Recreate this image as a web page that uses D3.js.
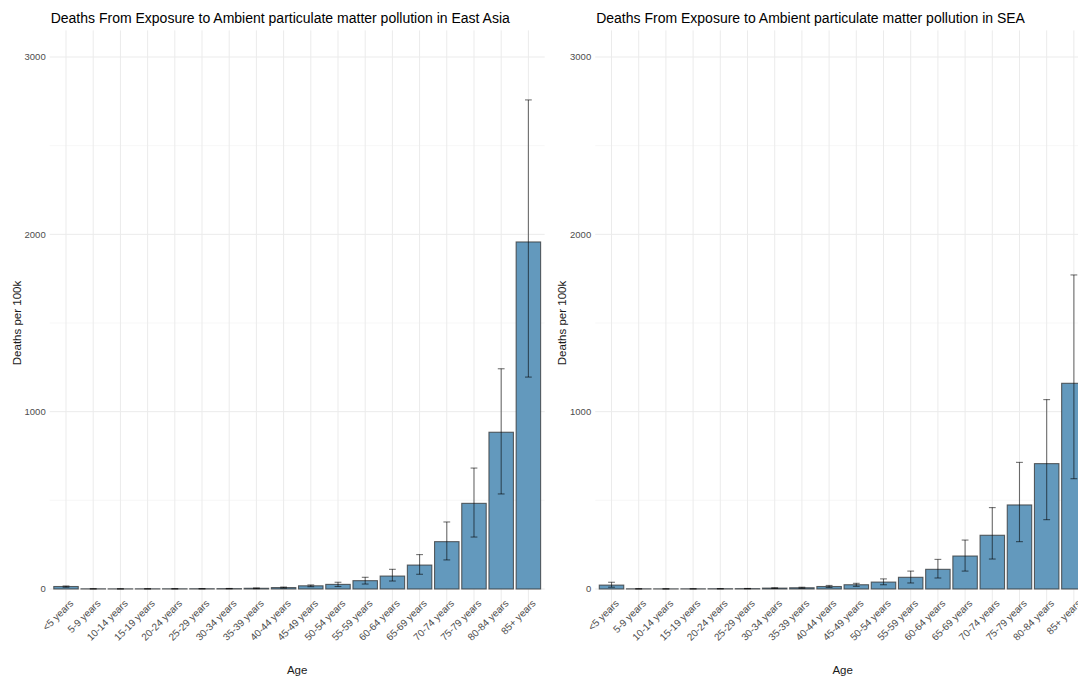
<!DOCTYPE html>
<html>
<head>
<meta charset="utf-8">
<script src="https://cdn.jsdelivr.net/npm/d3@7"></script>
<style>
  body { margin: 0; background: #fff; }
  svg { display: block; font-family: "Liberation Sans", Arial, sans-serif; }
</style>
</head>
<body>
<svg id="chart"></svg>
<script>
const ages = ["<5 years", "5-9 years", "10-14 years", "15-19 years", "20-24 years", "25-29 years",
  "30-34 years", "35-39 years", "40-44 years", "45-49 years", "50-54 years", "55-59 years",
  "60-64 years", "65-69 years", "70-74 years", "75-79 years", "80-84 years", "85+ years"];

// East Asia
const eastAsia   = [14, 1, 0.8, 1, 1.2, 1.5, 2, 4, 8, 18, 26, 47, 73, 135, 267, 483, 884, 1957];
const eastAsiaLo = [10, 0.5, 0.4, 0.5, 0.6, 0.8, 1, 2, 5, 13, 14, 28, 45, 83, 164, 293, 536, 1195];
const eastAsiaHi = [17, 1.5, 1.2, 1.5, 1.8, 2.2, 3, 6, 11, 23, 38, 66, 111, 194, 378, 682, 1242, 2758];

// South-East Asia
const sea   = [22, 1, 0.8, 1, 1.5, 2, 5, 7, 14, 24, 39, 66, 111, 186, 303, 474, 707, 1160];
const seaLo = [10, 0.5, 0.4, 0.5, 0.8, 1, 3, 4, 9, 15, 24, 34, 62, 101, 169, 267, 391, 622];
const seaHi = [38, 1.5, 1.2, 1.5, 2.2, 3, 7, 10, 20, 32, 57, 101, 167, 276, 459, 714, 1068, 1771];

const yTicks = [0, 1000, 2000, 3000];
const yMinor = [500, 1500, 2500];

const width = 1078;
const height = 677;

const svg = d3.select("#chart").attr("width", width).attr("height", height);

const y = d3.scaleLinear().domain([-150, 3150]).range([615.6, 30.4]);

function panel(x0, x1, title, vals, lo, hi) {
  const g = svg.append("g");
  const x = d3.scaleBand().domain(ages).range([x0, x1]).paddingInner(0.1).paddingOuter(0.15);
  const cx = (d) => x(d) + x.bandwidth() / 2;
  const rows = ages.map((a, i) => ({ age: a, v: vals[i], lo: lo[i], hi: hi[i] }));

  // grid
  g.selectAll(".minor").data(yMinor).enter().append("line")
    .attr("x1", x0).attr("x2", x1)
    .attr("y1", (d) => y(d)).attr("y2", (d) => y(d))
    .attr("stroke", "#f2f2f2").attr("stroke-width", 0.6);
  g.selectAll(".major").data(yTicks).enter().append("line")
    .attr("x1", x0).attr("x2", x1)
    .attr("y1", (d) => y(d)).attr("y2", (d) => y(d))
    .attr("stroke", "#ebebeb").attr("stroke-width", 1);
  g.selectAll(".vgrid").data(ages).enter().append("line")
    .attr("x1", cx).attr("x2", cx)
    .attr("y1", y.range()[0]).attr("y2", y.range()[1])
    .attr("stroke", "#ebebeb").attr("stroke-width", 1);

  // bars
  g.selectAll(".bar").data(rows).enter().append("rect")
    .attr("x", (d) => x(d.age))
    .attr("width", x.bandwidth())
    .attr("y", (d) => y(d.v))
    .attr("height", (d) => y(0) - y(d.v))
    .attr("fill", "#6399bd")
    .attr("stroke", "#333")
    .attr("stroke-opacity", 0.75)
    .attr("stroke-width", 1.1);

  // error bars
  const cap = x.step() * 0.125;
  const eb = g.selectAll(".err").data(rows).enter().append("g")
    .attr("stroke", "#000").attr("stroke-opacity", 0.55).attr("stroke-width", 1.1);
  eb.append("line").attr("x1", (d) => cx(d.age)).attr("x2", (d) => cx(d.age))
    .attr("y1", (d) => y(d.lo)).attr("y2", (d) => y(d.hi));
  eb.append("line").attr("x1", (d) => cx(d.age) - cap).attr("x2", (d) => cx(d.age) + cap)
    .attr("y1", (d) => y(d.hi)).attr("y2", (d) => y(d.hi));
  eb.append("line").attr("x1", (d) => cx(d.age) - cap).attr("x2", (d) => cx(d.age) + cap)
    .attr("y1", (d) => y(d.lo)).attr("y2", (d) => y(d.lo));

  // y tick labels
  g.selectAll(".ytick").data(yTicks).enter().append("text")
    .attr("x", x0 - 4).attr("y", (d) => y(d)).attr("dy", "0.34em")
    .attr("text-anchor", "end").attr("font-size", 9.5).attr("fill", "#4d4d4d")
    .text((d) => d);

  // x tick labels
  g.selectAll(".xtick").data(ages).enter().append("text")
    .attr("transform", (d) => `translate(${cx(d) + 3},${599}) rotate(-45)`)
    .attr("dy", "0.71em")
    .attr("text-anchor", "end").attr("font-size", 10).attr("fill", "#4d4d4d")
    .text((d) => d);

  // axis titles
  g.append("text").attr("x", (x0 + x1) / 2).attr("y", 674)
    .attr("text-anchor", "middle").attr("font-size", 11.5).attr("fill", "#1a1a1a")
    .text("Age");
  g.append("text").attr("transform", `translate(${x0 - 29},${y(1500)}) rotate(-90)`)
    .attr("text-anchor", "middle").attr("font-size", 11.5).attr("fill", "#1a1a1a")
    .text("Deaths per 100k");

  // title
  g.append("text").attr("x", x0 + 1).attr("y", 23)
    .attr("font-size", 14).attr("fill", "#000")
    .text(title);
}

panel(49.7, 544.7, "Deaths From Exposure to Ambient particulate matter pollution in East Asia",
  eastAsia, eastAsiaLo, eastAsiaHi);
panel(595.2, 1090.2, "Deaths From Exposure to Ambient particulate matter pollution in SEA",
  sea, seaLo, seaHi);
</script>
</body>
</html>
